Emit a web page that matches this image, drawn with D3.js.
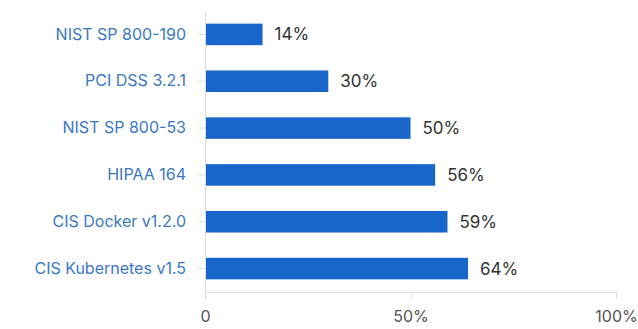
<!DOCTYPE html>
<html>
<head>
<meta charset="utf-8">
<script src="https://cdn.jsdelivr.net/npm/d3@7"></script>
<style>
  body { margin: 0; background: #fff; }
  text { font-family: Inter, "Open Sans", sans-serif; }
</style>
</head>
<body>
<svg width="638" height="329"></svg>
<script>
var categories = ["NIST SP 800-190", "PCI DSS 3.2.1", "NIST SP 800-53", "HIPAA 164", "CIS Docker v1.2.0", "CIS Kubernetes v1.5"];
var values = [14, 30, 50, 56, 59, 64];
var xTicks = [0, 50, 100];

var svg = d3.select("svg"),
    margin = {top: 11, right: 22, bottom: 37, left: 205},
    width = +svg.attr("width") - margin.left - margin.right,
    height = +svg.attr("height") - margin.top - margin.bottom,
    g = svg.append("g").attr("transform", "translate(" + margin.left + "," + margin.top + ")");

var x = d3.scaleLinear().domain([0, 100]).range([0, width]);
var y = d3.scaleBand().domain(categories).range([0, height]).paddingInner(0.54).paddingOuter(0.27);

// x axis
var xAxis = g.append("g")
    .attr("transform", "translate(0," + height + ")")
    .call(d3.axisBottom(x).tickValues(xTicks).tickSize(7).tickPadding(12)
      .tickFormat(function(d) { return d === 0 ? "0" : d + "%"; }));
xAxis.select(".domain").attr("stroke", "#dcdcdc");
xAxis.selectAll(".tick line").attr("stroke", "#dcdcdc");
xAxis.selectAll("text").attr("fill", "#555").style("font-size", "16px");

// y axis
var yAxis = g.append("g")
    .call(d3.axisLeft(y).tickSize(7).tickSizeOuter(0).tickPadding(12));
yAxis.select(".domain").attr("stroke", "#dcdcdc");
yAxis.selectAll(".tick line").attr("stroke", "#dcdcdc");
yAxis.selectAll("text").attr("fill", "#3b78c3").style("font-size", "16px");

g.selectAll(".bar")
  .data(values)
  .enter().append("rect")
    .attr("class", "bar")
    .attr("x", x(0) + 1)
    .attr("y", function(d, i) { return y(categories[i]); })
    .attr("width", function(d) { return x(d) - x(0) - 1; })
    .attr("height", y.bandwidth())
    .attr("fill", "#1866c9");

g.selectAll(".val")
  .data(values)
  .enter().append("text")
    .attr("class", "val")
    .attr("x", function(d) { return x(d) + 12; })
    .attr("y", function(d, i) { return y(categories[i]) + y.bandwidth() / 2; })
    .attr("dy", "0.35em")
    .attr("fill", "#333")
    .style("font-size", "17px")
    .text(function(d) { return d + "%"; });
</script>
</body>
</html>
